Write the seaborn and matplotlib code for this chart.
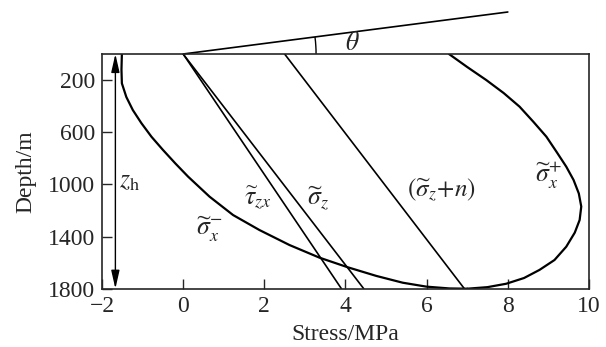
import numpy as np
import pandas as pd
import matplotlib
matplotlib.use("Agg")
import matplotlib.pyplot as plt
from matplotlib.patches import Arc
import seaborn as sns

# Horizontal stress, lower branch sigma_x^- (MPa) versus depth (m)
sx_minus_depth = [0, 120, 225, 330, 430, 530, 635, 735, 840, 940, 1094,
                  1235, 1350, 1465, 1562, 1636, 1702, 1754, 1784, 1798, 1800]
sx_minus_stress = [-1.51, -1.52, -1.51, -1.40, -1.24, -1.03, -0.78, -0.50,
                   -0.19, 0.12, 0.65, 1.23, 1.88, 2.62, 3.36, 4.06, 4.76,
                   5.41, 5.99, 6.56, 7.00]

# Horizontal stress, upper branch sigma_x^+ (MPa) versus depth (m)
sx_plus_depth = [1800, 1788, 1762, 1718, 1656, 1580, 1478, 1370, 1273, 1170,
                 1070, 966, 864, 750, 634, 520, 404, 300, 200, 100, 0]
sx_plus_stress = [7.00, 7.50, 7.96, 8.40, 8.78, 9.15, 9.44, 9.65, 9.77, 9.81,
                  9.75, 9.62, 9.44, 9.20, 8.95, 8.63, 8.29, 7.90, 7.47, 7.00,
                  6.55]

# Linear profiles
line_depth = [0, 1800]
tau_zx_stress = [0.0, 3.90]
sigma_z_stress = [0.0, 4.45]
sigma_zn_stress = [2.50, 6.93]

# Inclined reference line defining the angle theta
incline_stress = [0.0, 8.0]
incline_depth = [0, -322]

x_ticks = [-2, 0, 2, 4, 6, 8, 10]
y_ticks = [200, 600, 1000, 1400, 1800]

sns.set_style("ticks")
plt.rcParams["font.family"] = ["Liberation Serif", "DejaVu Serif"]
plt.rcParams["mathtext.fontset"] = "stix"
plt.rcParams["axes.linewidth"] = 1.2

fig = plt.figure(figsize=(6.06, 3.47), dpi=100)
ax = fig.add_axes([0.1683, 0.168, 0.8036, 0.6764])

curves = pd.concat([
    pd.DataFrame({"stress": sx_minus_stress, "depth": sx_minus_depth, "name": "sx-"}),
    pd.DataFrame({"stress": sx_plus_stress, "depth": sx_plus_depth, "name": "sx+"}),
])
sns.lineplot(data=curves, x="stress", y="depth", units="name", estimator=None,
             sort=False, color="black", lw=1.6, ax=ax)

lines = pd.concat([
    pd.DataFrame({"stress": tau_zx_stress, "depth": line_depth, "name": "tau"}),
    pd.DataFrame({"stress": sigma_z_stress, "depth": line_depth, "name": "sz"}),
    pd.DataFrame({"stress": sigma_zn_stress, "depth": line_depth, "name": "szn"}),
])
sns.lineplot(data=lines, x="stress", y="depth", units="name", estimator=None,
             sort=False, color="black", lw=1.2, ax=ax)

ax.plot(incline_stress, incline_depth, color="black", lw=1.2, clip_on=False)

ax.set_xlim(-2, 10)
ax.set_ylim(1800, 0)
ax.set_xticks(x_ticks)
ax.set_yticks(y_ticks)
ax.tick_params(direction="in", length=7, width=1.0, labelsize=17, pad=5,
               top=False, right=False)
ax.set_xlabel("Stress/MPa", fontsize=17, labelpad=5)
ax.set_ylabel("Depth/m", fontsize=17, labelpad=8)

# Angle arc between the surface and the inclined line
arc_w = 6.55
arc_h = 2040
theta_end = np.degrees(np.arctan2(incline_depth[1], incline_stress[1]))
ax.add_patch(Arc((0, 0), arc_w, arc_h, theta1=theta_end, theta2=0,
                 color="black", lw=1.0, clip_on=False))
ax.text(4.18, -82, r"$\theta$", fontsize=18.5, ha="center", va="center",
        clip_on=False)

# Depth range arrow
ax.annotate("", xy=(-1.67, 1800), xytext=(-1.67, 0),
            arrowprops=dict(arrowstyle="<|-|>,head_length=1.1,head_width=0.25",
                            color="black", lw=1.0, shrinkA=0, shrinkB=0,
                            mutation_scale=10))
ax.text(-1.32, 980, r"$z_{\mathrm{h}}$", fontsize=18.5, ha="center", va="center")

ax.text(1.84, 1110, r"$\widetilde{\tau}_{zx}$", fontsize=18.5, ha="center", va="center")
ax.text(3.32, 1110, r"$\widetilde{\sigma}_{z}$", fontsize=18.5, ha="center", va="center")
ax.text(6.36, 1043, r"$(\widetilde{\sigma}_{z}\!+\!n)$", fontsize=18, ha="center", va="center")
ax.text(0.65, 1340, r"$\widetilde{\sigma}_{x}^{-}$", fontsize=18.5, ha="center", va="center")
ax.text(8.99, 930, r"$\widetilde{\sigma}_{x}^{+}$", fontsize=18.5, ha="center", va="center")

fig.savefig("out.png", dpi=100)
